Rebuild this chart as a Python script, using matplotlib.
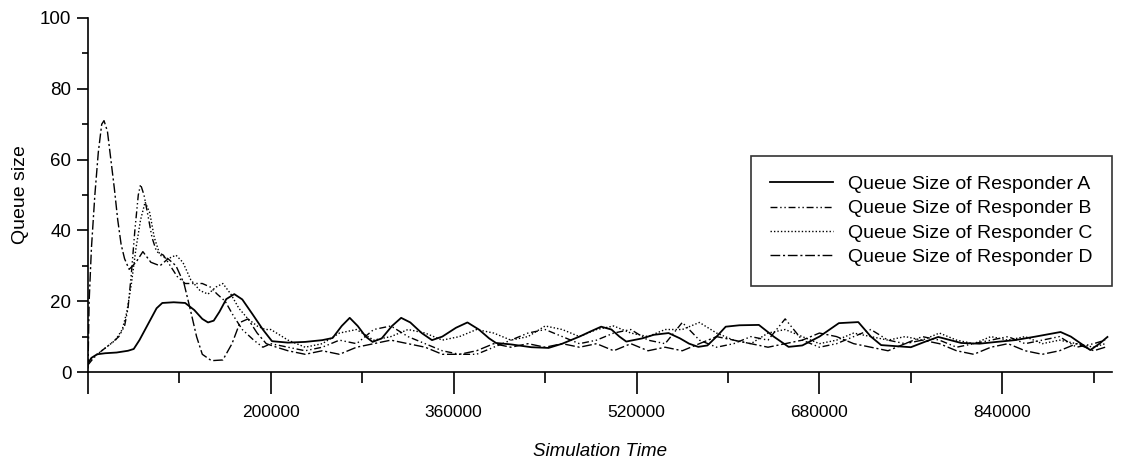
import matplotlib
matplotlib.use('Agg')
import matplotlib.pyplot as plt
import numpy as np

plt.rcParams['font.family'] = ['Liberation Sans', 'DejaVu Sans']

# simulation time (thousands) and queue size
a_t = [40, 43, 48, 55, 65, 75, 80, 85, 90, 95, 100, 105, 115, 125, 133, 140, 145, 150, 155, 161,
       168, 175, 184, 193, 201, 215, 230, 245, 254, 262, 269, 276, 283, 289, 297, 306, 314, 322,
       332, 341, 350, 362, 372, 382, 391, 397, 410, 428, 443, 455, 470, 480, 489, 498, 505, 511,
       525, 535, 548, 558, 566, 574, 582, 590, 598, 610, 627, 640, 653, 665, 680, 697, 714, 725,
       734, 760, 772, 784, 804, 820, 835, 851, 869, 891, 900, 917, 925, 932]
a_q = [2.5, 4, 5, 5.3, 5.5, 6, 6.5, 9, 12, 15, 18, 19.5, 19.7, 19.5, 17.5, 15, 14, 14.5, 17, 20.6,
       22, 20.5, 16.3, 12, 8.7, 8.3, 8.5, 9, 9.6, 13, 15.3, 13, 10, 8.5, 9.5, 13, 15.3, 14,
       11, 9, 10, 12.5, 14, 12, 9.5, 8.2, 7.8, 7, 6.8, 8, 10, 11.5, 12.8, 12, 10, 8.6,
       9.5, 10.5, 11, 9.5, 8, 7.1, 7.5, 10, 12.8, 13.2, 13.3, 10, 7.1, 7.5, 10, 13.8, 14.1, 10,
       7.6, 7, 8.5, 9.9, 8.2, 8, 8.5, 9, 10, 11.3, 10, 6.2, 8, 9.9]

b_t = [40, 45, 52, 60, 67, 72, 75, 78, 81, 84, 86, 89, 92, 96, 100, 106, 112, 118, 125, 132,
       140, 147, 153, 160, 167, 175, 185, 193, 200, 215, 230, 245, 260, 275, 290, 305, 320, 335,
       350, 365, 380, 395, 410, 425, 440, 455, 470, 485, 500, 515, 530, 545, 560, 575, 590, 605,
       620, 635, 650, 665, 680, 695, 710, 725, 740, 755, 770, 785, 800, 815, 830, 845, 860, 875,
       890, 905, 920, 930]
b_q = [2, 4, 6, 8, 10, 13, 18, 28, 40, 50, 53, 50, 45, 38, 34, 33, 30, 27, 25, 25,
       25, 24, 22, 20, 16, 12, 9, 7, 8, 7, 6, 7, 9, 8, 12, 13, 10, 8,
       6, 5, 5, 7, 9, 11, 12, 10, 8, 9, 11, 12, 9, 8, 14, 9, 7, 8,
       10, 9, 15, 9, 7, 8, 10, 12, 9, 8, 10, 9, 7, 8, 9, 10, 8, 9,
       10, 7, 8, 9]

c_t = [40, 48, 56, 64, 70, 74, 78, 82, 86, 90, 94, 98, 103, 110, 117, 123, 130, 138, 145, 152,
       158, 165, 172, 180, 188, 195, 200, 215, 230, 245, 260, 275, 290, 305, 320, 335, 350, 365,
       380, 395, 410, 425, 440, 455, 470, 485, 500, 515, 530, 545, 560, 575, 590, 605, 620, 635,
       650, 665, 680, 695, 710, 725, 740, 755, 770, 785, 800, 815, 830, 845, 860, 875, 890, 905,
       920, 930]
c_q = [3, 5, 7, 9, 12, 17, 25, 35, 43, 48, 45, 38, 33, 32, 33, 31, 26, 23, 22, 24,
       25, 22, 18, 15, 13, 12, 12, 9, 7, 8, 11, 12, 9, 10, 12, 11, 9, 10,
       12, 11, 9, 10, 13, 12, 10, 12, 13, 11, 10, 12, 12, 14, 11, 9, 8, 11,
       12, 10, 8, 9, 11, 10, 9, 10, 9, 11, 9, 8, 10, 9, 10, 8, 9, 8,
       7, 8]

d_t = [40, 41, 43, 46, 49, 52, 54, 57, 60, 63, 66, 69, 72, 76, 82, 88, 95, 103, 110, 117,
       124, 130, 135, 140, 148, 158, 166, 173, 180, 188, 196, 205, 215, 230, 245, 260, 275, 290,
       305, 320, 335, 350, 365, 380, 395, 410, 425, 440, 455, 470, 485, 500, 515, 530, 545, 560,
       575, 590, 605, 620, 635, 650, 665, 680, 695, 710, 725, 740, 755, 770, 785, 800, 815, 830,
       845, 860, 875, 890, 905, 920, 930]
d_q = [1, 20, 35, 50, 62, 70, 71, 68, 60, 52, 43, 36, 32, 29, 31, 34, 31, 30, 32, 30,
       25, 17, 10, 5, 3.2, 3.4, 8, 14, 15, 11, 8, 7, 6, 5, 6, 5, 7, 8,
       9, 8, 7, 5, 5, 6, 8, 7, 8, 7, 8, 7, 8, 6, 8, 6, 7, 6,
       8, 10, 9, 8, 7, 8, 9, 11, 10, 8, 7, 6, 8, 9, 8, 6, 5, 7,
       8, 6, 5, 6, 8, 6, 7]

labels = ['Queue Size of Responder A', 'Queue Size of Responder B',
          'Queue Size of Responder C', 'Queue Size of Responder D']

fig = plt.figure(figsize=(11.32, 4.61), dpi=100)
ax = fig.add_axes([88/1132, 1 - 372/461, (1112 - 88)/1132, (372 - 18)/461])

ax.plot(np.array(a_t) * 1000, a_q, color='black', lw=1.3, ls='-', label=labels[0])
ax.plot(np.array(b_t) * 1000, b_q, color='black', lw=1.0, ls=(0, (5, 2, 1, 2, 1, 2)), label=labels[1])
ax.plot(np.array(c_t) * 1000, c_q, color='black', lw=1.0, ls=(0, (1, 1.5)), label=labels[2])
ax.plot(np.array(d_t) * 1000, d_q, color='black', lw=1.0, ls=(0, (7, 2, 1.5, 2)), label=labels[3])

ax.set_xlim(40000, 936000)
ax.set_ylim(0, 100)

for s in ['top', 'right']:
    ax.spines[s].set_visible(False)
for s in ['left', 'bottom']:
    ax.spines[s].set_linewidth(1.2)

xmaj = np.arange(40000, 936000, 160000)
ax.set_xticks(xmaj)
ax.set_xticklabels([''] + [str(v) for v in xmaj[1:]])
ax.set_xticks(np.arange(120000, 936000, 160000), minor=True)
ax.set_yticks([0, 20, 40, 60, 80, 100])
ax.set_yticks([10, 30, 50, 70, 90], minor=True)

ax.tick_params(axis='x', which='major', length=16, width=1.2, direction='out', labelsize=12.5, pad=8)
ax.tick_params(axis='x', which='minor', length=8, width=1.2, direction='out')
ax.tick_params(axis='y', which='major', length=8, width=1.2, direction='out', labelsize=13.5, pad=4)
ax.tick_params(axis='y', which='minor', length=4, width=1.2, direction='out')

ax.set_xlabel('Simulation Time', fontsize=13.5, style='italic', labelpad=16)
ax.set_ylabel('Queue size', fontsize=14, labelpad=8)

leg = ax.legend(loc='upper right', bbox_to_anchor=(1112/1132, 1 - 156/461),
                bbox_transform=fig.transFigure, fontsize=14, frameon=True, fancybox=False,
                edgecolor='black', handlelength=3.2, labelspacing=0.35, borderpad=1.0,
                handletextpad=0.8, borderaxespad=0)
leg.get_frame().set_linewidth(1.2)

fig.savefig('out.png', dpi=100)
